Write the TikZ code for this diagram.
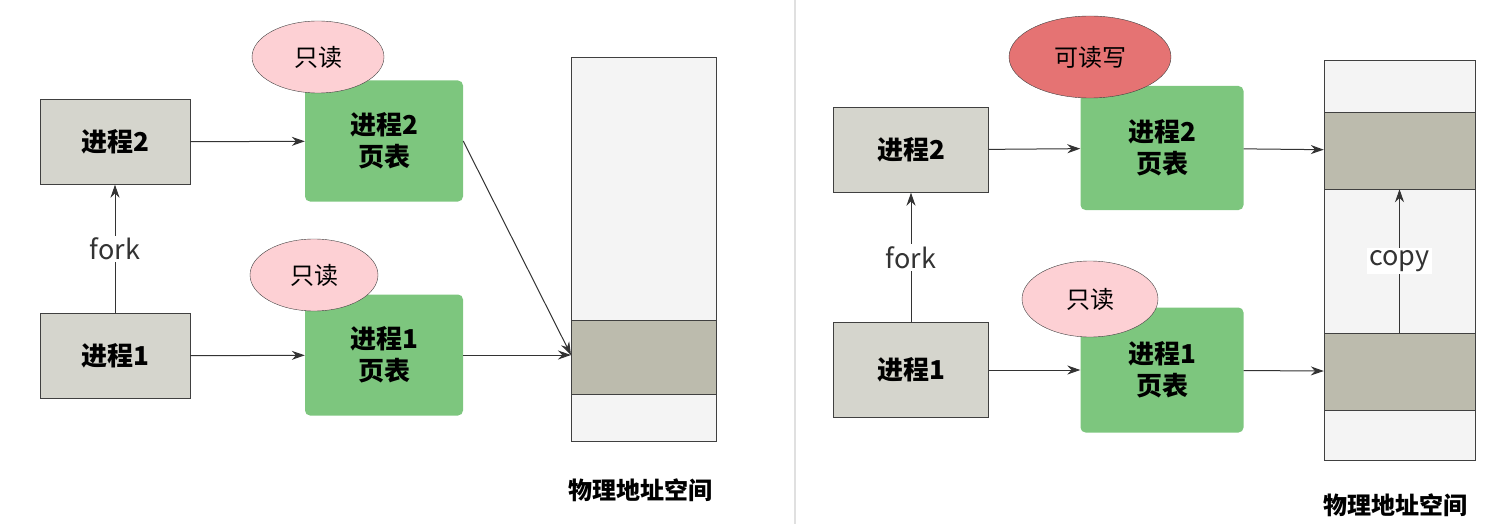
\documentclass[tikz,border=0pt]{standalone}
\usepackage{fontspec}
\setmainfont{Noto Sans CJK SC}
\usetikzlibrary{arrows.meta,shapes.geometric}
\definecolor{procgray}{HTML}{D5D5CD}
\definecolor{tblgreen}{HTML}{7DC67E}
\definecolor{rdpink}{HTML}{FDD0D4}
\definecolor{rwred}{HTML}{E57373}
\definecolor{memfill}{HTML}{F4F4F4}
\definecolor{blkfill}{HTML}{BCBBAD}
\tikzset{
  proc/.style={draw=black!75,fill=procgray,minimum width=150pt,minimum height=85pt,font=\fontsize{26}{30}\selectfont\bfseries,inner sep=0pt},
  tbl/.style={fill=tblgreen,rounded corners=5pt,minimum width=158pt,minimum height=121pt,align=center,font=\fontsize{26}{32}\selectfont\bfseries,inner sep=0pt},
  tag/.style={ellipse,draw=black!75,minimum width=132pt,minimum height=72pt,font=\fontsize{24}{28}\selectfont,inner sep=0pt},
  arr/.style={-{Stealth[length=13pt,width=9pt]},line width=1pt,black!80},
  lbl/.style={font=\fontsize{27}{30}\selectfont,fill=white,inner sep=2pt},
  memcap/.style={font=\fontsize{24}{28}\selectfont\bfseries}
}
\begin{document}
\begin{tikzpicture}[x=1pt,y=-1pt]
\useasboundingbox (0,0) rectangle (1504,524);
\draw[black!12,line width=2pt] (795,0) -- (795,524);
% left
\node[proc] (lp2) at (115,142) {进程2};
\node[proc] (lp1) at (115,356) {进程1};
\node[tbl] (lt2) at (384,141) {进程2\\页表};
\node[tbl] (lt1) at (384,355) {进程1\\页表};
\node[tag,fill=rdpink] (lr2) at (318,57) {只读};
\node[tag,fill=rdpink,minimum width=128pt] (lr1) at (314,275) {只读};
\draw[draw=black!75,fill=memfill] (571,57) rectangle (716,441);
\draw[draw=black!75,fill=blkfill] (571,320) rectangle (716,394);
\coordinate (lm) at (571,355);
\draw[arr] (lp1) -- (lp2) node[midway,lbl] {fork};
\draw[arr] (lp2) -- (lt2);
\draw[arr] (lp1) -- (lt1);
\draw[arr] (lt2.east) -- (lm);
\draw[arr] (lt1.east) -- (lm);
\node[memcap] (lcap) at (640,490) {物理地址空间};
% right
\node[proc,minimum width=155pt] (rp2) at (911,150) {进程2};
\node[proc,minimum width=155pt,minimum height=95pt] (rp1) at (911,370) {进程1};
\node[tbl,minimum width=163pt,minimum height=124pt] (rt2) at (1162,148) {进程2\\页表};
\node[tbl,minimum width=163pt,minimum height=125pt] (rt1) at (1162,370) {进程1\\页表};
\node[tag,fill=rwred,minimum width=162pt,minimum height=82pt] (rw2) at (1090,57) {可读写};
\node[tag,fill=rdpink,minimum width=136pt,minimum height=76pt] (rr1) at (1090,299) {只读};
\draw[draw=black!75,fill=memfill] (1324,60) rectangle (1475,460);
\node[draw=black!75,fill=blkfill,minimum width=151pt,minimum height=77pt,inner sep=0pt] (rb2) at (1399.5,150.5) {};
\node[draw=black!75,fill=blkfill,minimum width=151pt,minimum height=77pt,inner sep=0pt] (rb1) at (1399.5,371.5) {};
\draw[arr] (rp1) -- (rp2) node[midway,lbl] {fork};
\draw[arr] (rp2) -- (rt2);
\draw[arr] (rp1) -- (rt1);
\draw[arr] (rt2) -- (rb2);
\draw[arr] (rt1) -- (rb1);
\draw[arr] (rb1) -- (rb2) node[midway,lbl] {copy};
\node[memcap] (rcap) at (1395,505) {物理地址空间};
\end{tikzpicture}
\end{document}
